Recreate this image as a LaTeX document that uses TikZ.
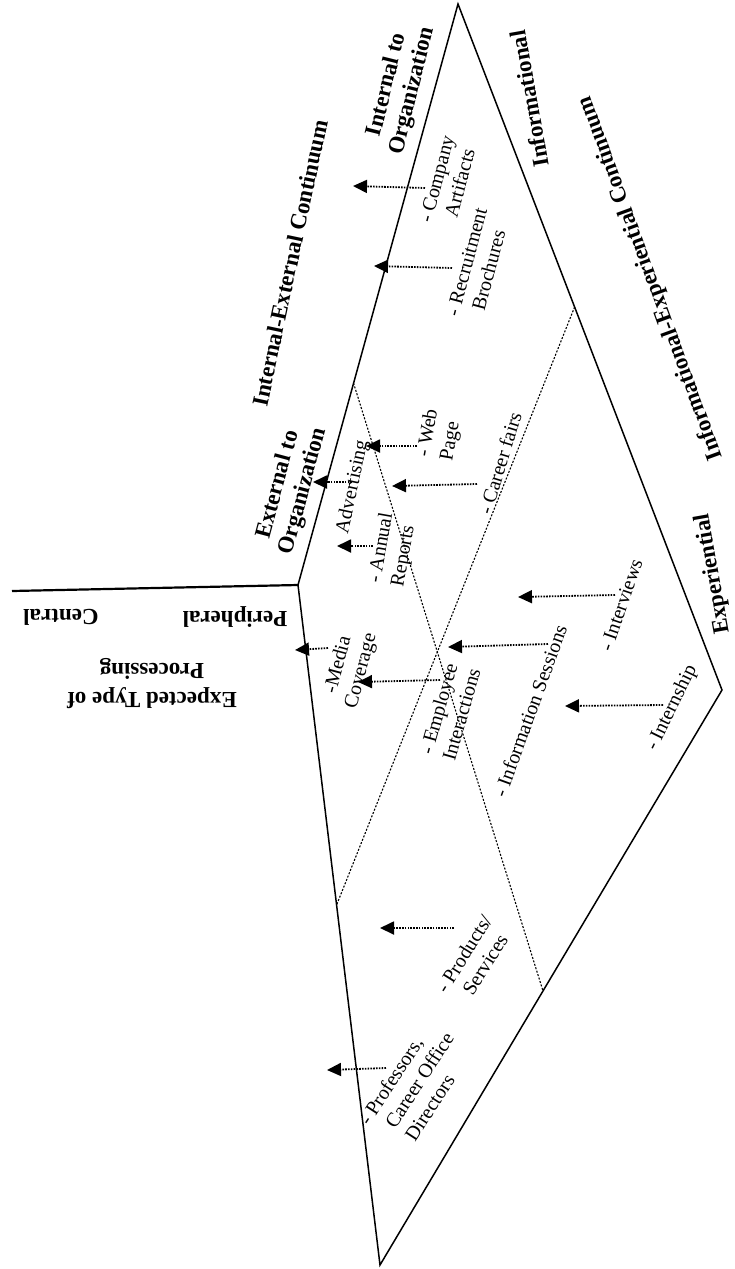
\documentclass[tikz,border=0pt]{standalone}
\usepackage{fontspec}
\setmainfont{Liberation Serif}
\usetikzlibrary{arrows.meta}
\begin{document}
\begin{tikzpicture}[x=1pt,y=-1pt,
  edge/.style={line width=1.5pt, line join=miter},
  axisline/.style={line width=2.2pt},
  divider/.style={line width=1.1pt, dash pattern=on 2pt off 1.6pt},
  pointer/.style={line width=1.8pt, dash pattern=on 1.6pt off 1.2pt, -{Triangle[length=14pt,width=13pt]}},
  heading/.style={font=\fontsize{23}{26}\selectfont\bfseries, inner sep=0pt, align=center},
  item/.style={font=\fontsize{20}{23.5}\selectfont, inner sep=0pt, align=left},
  itemc/.style={item, align=center},
]
\useasboundingbox (0,0) rectangle (735,1269);
\fill[white] (0,0) rectangle (735,1269);

% outline
\coordinate (T) at (458,4);
\coordinate (L) at (298,585);
\coordinate (B) at (380,1265);
\coordinate (R) at (722,690);
\coordinate (H) at (12,591);
\draw[edge] (T) -- (L) -- (B) -- (R) -- cycle;
\draw[axisline] (H) -- (L);

% dividers
\coordinate (d1a) at (353.5,383);
\coordinate (d1b) at (543,991);
\coordinate (d2a) at (574.6,307);
\coordinate (d2b) at (336.6,905);
\draw[divider] (d1a) -- (d1b);
\draw[divider] (d2a) -- (d2b);

% headings
\node[heading, rotate=78] (iec) at (290,263) {Internal-External Continuum};
\node[heading, rotate=76] (into) at (400,88) {Internal to\\Organization};
\node[heading, rotate=75] (exto) at (291,488) {External to\\Organization};
\node[heading, rotate=100] (inf) at (529,99) {Informational};
\node[heading, rotate=110] (iexc) at (651,278) {Informational-Experiential Continuum};
\node[heading, rotate=100] (expl) at (713,574) {Experiential};
\node[heading, rotate=180] (per) at (235,617) {Peripheral};
\node[heading, rotate=180] (cen) at (61,617) {Central};
\node[heading, rotate=180, font=\fontsize{23}{29}\selectfont\bfseries] (etp) at (152,684) {Expected Type of\\Processing};

% items
\node[item, rotate=75] (comp) at (448,182) {- Company\\\hphantom{- }Artifacts};
\node[item, rotate=75] (recr) at (478,265) {- Recruitment\\\hphantom{- }Brochures};
\node[item, rotate=80] (web) at (440,435) {- Web\\Page};
\node[item, rotate=78] (adv) at (353,487) {Advertising};
\node[item, rotate=80] (ann) at (393,550) {- Annual\\Reports};
\node[item, rotate=73] (car) at (500,463) {- Career fairs};
\node[item, rotate=71] (intv) at (621,605) {- Interviews};
\node[itemc, rotate=75] (med) at (350,668) {-Media\\Coverage};
\node[item, rotate=74] (emp) at (450,711) {- Employee\\Interactions};
\node[item, rotate=70] (info) at (530,711) {- Information Sessions};
\node[item, rotate=64] (ints) at (672,708) {- Internship};
\node[item, rotate=58] (prod) at (474,960) {- Products/\\\hphantom{- }Services};
\node[item, rotate=57] (prof) at (416,1085) {- Professors,\\\hphantom{- }Career Office\\\hphantom{- }Directors};

% arrows
\coordinate (a1t) at (425,188);  \coordinate (a1h) at (353,186);
\coordinate (a2t) at (452,268);  \coordinate (a2h) at (374,266);
\coordinate (a3t) at (417,446);  \coordinate (a3h) at (366,446);
\coordinate (a4t) at (352,482);  \coordinate (a4h) at (313,482);
\coordinate (a5t) at (477,484);  \coordinate (a5h) at (392,486);
\coordinate (a6t) at (373,546);  \coordinate (a6h) at (337,546);
\coordinate (a7t) at (615,595);  \coordinate (a7h) at (518,597);
\coordinate (a8t) at (328,648);  \coordinate (a8h) at (295,650);
\coordinate (a9t) at (548,644);  \coordinate (a9h) at (448,647);
\coordinate (a10t) at (440,680); \coordinate (a10h) at (358,682);
\coordinate (a11t) at (663,705); \coordinate (a11h) at (565,706);
\coordinate (a12t) at (454,928); \coordinate (a12h) at (380,928);
\coordinate (a13t) at (386,1068); \coordinate (a13h) at (327,1070);
\foreach \i in {1,...,13} \draw[pointer] (a\i t) -- (a\i h);
\end{tikzpicture}
\end{document}
